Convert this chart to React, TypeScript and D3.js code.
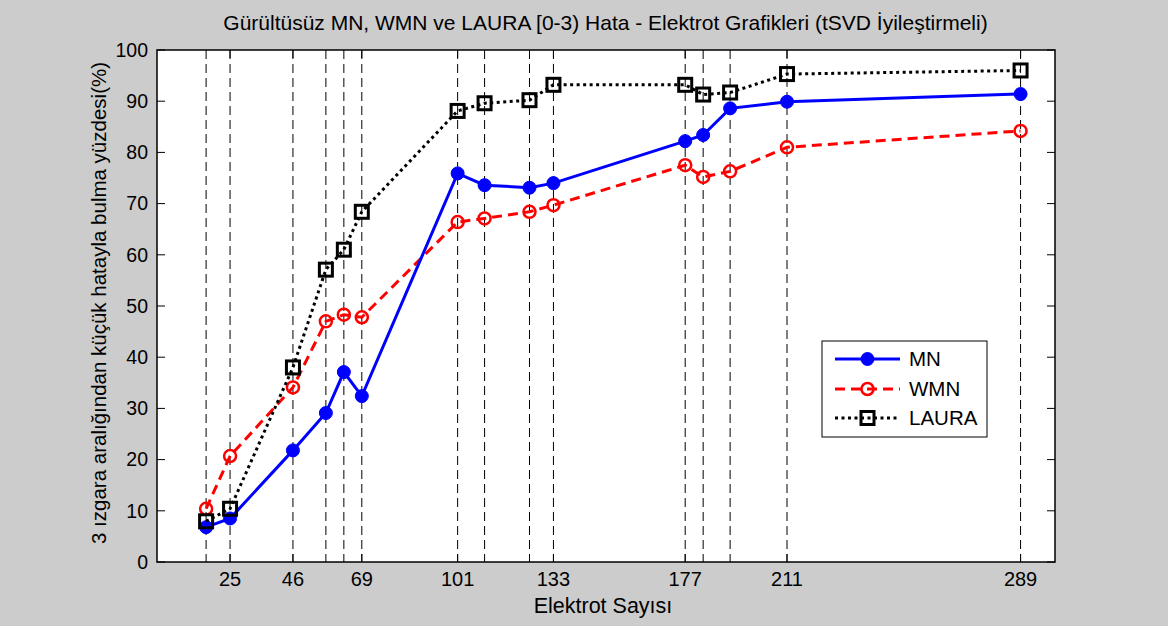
import React from "react";
import * as d3 from "d3";

// Electrode counts used in the experiments
const electrodes = [17, 25, 46, 57, 63, 69, 101, 110, 125, 133, 177, 183, 192, 211, 289];
// Localisation success rate (%) within 3 grid spacings
const mnValues = [6.8, 8.5, 21.8, 29.1, 37.1, 32.4, 75.9, 73.6, 73.1, 74.0, 82.2, 83.4, 88.6, 89.9, 91.4];
const wmnValues = [10.4, 20.7, 34.1, 47.0, 48.3, 47.8, 66.4, 67.1, 68.4, 69.7, 77.5, 75.2, 76.3, 81.0, 84.2];
const lauraValues = [7.95, 10.4, 38.0, 57.1, 61.0, 68.4, 88.1, 89.6, 90.2, 93.2, 93.2, 91.3, 91.7, 95.3, 96.0];

const xTickValues = [25, 46, 69, 101, 133, 177, 211, 289];
const yTickValues = [0, 10, 20, 30, 40, 50, 60, 70, 80, 90, 100];

const titleText = "Gürültüsüz MN, WMN ve LAURA [0-3) Hata - Elektrot Grafikleri (tSVD İyileştirmeli)";
const xLabelText = "Elektrot Sayısı";
const yLabelText = "3 ızgara aralığından küçük hatayla bulma yüzdesi(%)";

const W = 1168;
const H = 626;
const left = 157;
const right = 1055;
const top = 50;
const bottom = 562;
const FONT = "'Liberation Sans', Arial, sans-serif";

export default function App() {
  const x = d3.scaleLinear().domain([0.6, 300.5]).range([left, right]);
  const y = d3.scaleLinear().domain([0, 100]).range([bottom, top]);

  const line = d3
    .line<number>()
    .x((_, i) => x(electrodes[i]))
    .y((d) => y(d));

  const tickLen = 8;

  const legendX = 822;
  const legendY = 341;
  const legendRows = [
    { label: "MN", kind: "mn", yy: 359 },
    { label: "WMN", kind: "wmn", yy: 389 },
    { label: "LAURA", kind: "laura", yy: 418 },
  ];

  const marker = (kind: string, cx: number, cy: number, key: any) => {
    if (kind === "mn") return <circle key={key} cx={cx} cy={cy} r={6.5} fill="#0000ff" stroke="#0000ff" strokeWidth={1} />;
    if (kind === "wmn") return <circle key={key} cx={cx} cy={cy} r={6} fill="none" stroke="#ff0000" strokeWidth={2.5} />;
    return <rect key={key} x={cx - 6.5} y={cy - 6.5} width={13} height={13} fill="none" stroke="#000" strokeWidth={3} />;
  };

  const lineStyle = (kind: string) => {
    if (kind === "mn") return { stroke: "#0000ff", strokeWidth: 3, strokeDasharray: undefined };
    if (kind === "wmn") return { stroke: "#ff0000", strokeWidth: 3, strokeDasharray: "10,6" };
    return { stroke: "#000000", strokeWidth: 3, strokeDasharray: "3,3.5" };
  };

  const series = [
    { kind: "wmn", values: wmnValues },
    { kind: "mn", values: mnValues },
    { kind: "laura", values: lauraValues },
  ];

  return (
    <svg width={W} height={H} style={{ position: "absolute", left: 0, top: 0 }} fontFamily={FONT}>
      <rect x={0} y={0} width={W} height={H} fill="#cccccc" />
      <rect x={left} y={top} width={right - left} height={bottom - top} fill="#ffffff" />

      {/* vertical guides at every electrode count */}
      {electrodes.map((e, i) => (
        <line key={"g" + i} x1={x(e)} x2={x(e)} y1={top} y2={bottom} stroke="#000" strokeWidth={1} strokeDasharray="9,5" />
      ))}

      {/* ticks */}
      {yTickValues.map((v) => (
        <g key={"yt" + v}>
          <line x1={left} x2={left + tickLen} y1={y(v)} y2={y(v)} stroke="#000" />
          <line x1={right} x2={right - tickLen} y1={y(v)} y2={y(v)} stroke="#000" />
          <text x={left - 9} y={y(v)} dy="0.35em" textAnchor="end" fontSize={19.5}>{v}</text>
        </g>
      ))}
      {xTickValues.map((v) => (
        <g key={"xt" + v}>
          <line x1={x(v)} x2={x(v)} y1={bottom} y2={bottom - tickLen} stroke="#000" />
          <line x1={x(v)} x2={x(v)} y1={top} y2={top + tickLen} stroke="#000" />
          <text x={x(v)} y={bottom + 24} textAnchor="middle" fontSize={20}>{v}</text>
        </g>
      ))}

      {/* series */}
      {series.map((s) => {
        const st = lineStyle(s.kind);
        return (
          <g key={s.kind}>
            <path d={line(s.values) || ""} fill="none" stroke={st.stroke} strokeWidth={st.strokeWidth} strokeDasharray={st.strokeDasharray} />
            {s.values.map((v, i) => marker(s.kind, x(electrodes[i]), y(v), s.kind + i))}
          </g>
        );
      })}

      <rect x={left} y={top} width={right - left} height={bottom - top} fill="none" stroke="#000" strokeWidth={1.5} />

      {/* legend */}
      <rect x={legendX} y={legendY} width={165} height={96} fill="#fff" stroke="#000" strokeWidth={1} />
      {legendRows.map((r) => {
        const st = lineStyle(r.kind);
        return (
          <g key={"lg" + r.kind}>
            <line x1={835} x2={900} y1={r.yy} y2={r.yy} stroke={st.stroke} strokeWidth={st.strokeWidth} strokeDasharray={st.strokeDasharray} />
            {marker(r.kind, 867.5, r.yy, "lm" + r.kind)}
            <text x={909} y={r.yy} dy="0.36em" fontSize={20.5}>{r.label}</text>
          </g>
        );
      })}

      <text x={605.5} y={30} textAnchor="middle" fontSize={21}>{titleText}</text>
      <text x={(left + right) / 2 - 3} y={613} textAnchor="middle" fontSize={21.5}>{xLabelText}</text>
      <text transform={`translate(106, ${(top + bottom) / 2 - 3}) rotate(-90)`} textAnchor="middle" fontSize={20.5}>{yLabelText}</text>
    </svg>
  );
}
